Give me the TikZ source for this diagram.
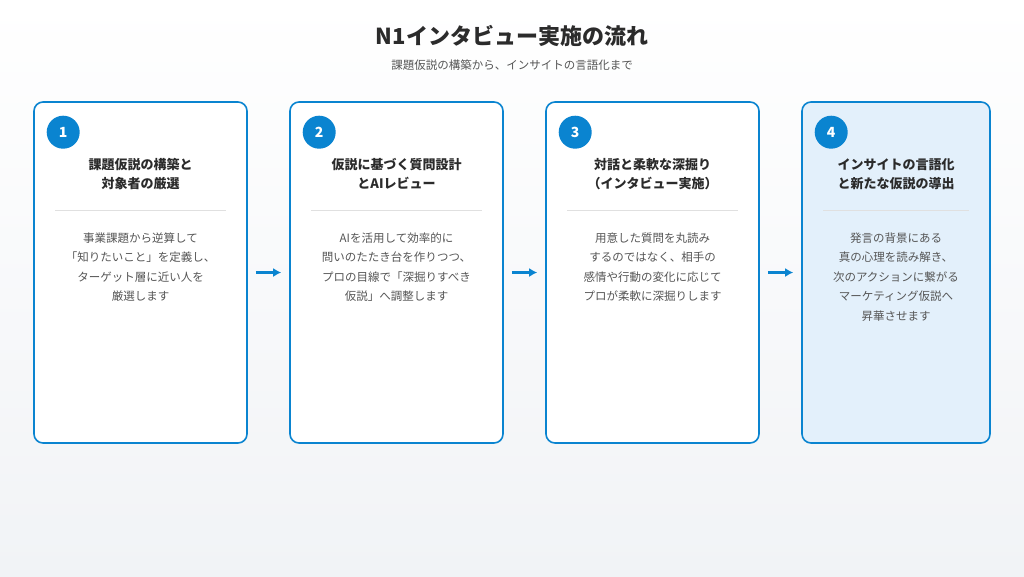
\documentclass[tikz,border=0pt]{standalone}
\usepackage{fontspec}
\setmainfont{Noto Sans CJK JP}
\usetikzlibrary{positioning,arrows.meta}
\definecolor{stepblue}{HTML}{0A84D0}
\definecolor{bodygray}{HTML}{555555}
\definecolor{titlegray}{HTML}{2B2B2B}
\definecolor{softblue}{HTML}{E3F0FB}
\definecolor{pagebg}{HTML}{F1F3F6}
\tikzset{
  card/.style={draw=stepblue,line width=1.6pt,rounded corners=9pt,fill=white,minimum height=341pt,inner sep=0pt},
  badge/.style={circle,fill=stepblue,minimum size=33pt,inner sep=0pt,text=white,font=\fontsize{14}{14}\selectfont\bfseries},
  cardtitle/.style={align=center,text=titlegray,font=\fontsize{13}{19}\selectfont\bfseries},
  cardbody/.style={align=center,text=bodygray,font=\fontsize{11.5}{19.5}\selectfont},
  flow/.style={-{Latex[length=8pt,width=9pt]},stepblue,line width=2.4pt,shorten >=8pt,shorten <=8pt}
}
\begin{document}
\begin{tikzpicture}[x=1pt,y=-1pt]
\fill[top color=white,bottom color=pagebg] (0,0) rectangle (1024,576);
\useasboundingbox (0,0) rectangle (1024,576);

\node[text=titlegray,font=\fontsize{22}{22}\selectfont\bfseries] (head) at (512,36) {N1インタビュー実施の流れ};
\node[text=bodygray,font=\fontsize{11.5}{12}\selectfont] (sub) at (512,65) {課題仮説の構築から、インサイトの言語化まで};

% cards
\node[card,minimum width=213pt] (c1) at (140.5,272.5) {};
\node[card,minimum width=213pt] (c2) at (396.5,272.5) {};
\node[card,minimum width=213pt] (c3) at (652.5,272.5) {};
\node[card,minimum width=188pt,fill=softblue] (c4) at (896,272.5) {};

\foreach \c/\n in {c1/1,c2/2,c3/3,c4/4} {
  \node[badge] (b\n) at ([xshift=30pt,yshift=-31pt]\c.north west) {\n};
  \draw[black!12,line width=0.8pt] ([xshift=22pt,yshift=-109pt]\c.north west) -- ([xshift=-22pt,yshift=-109pt]\c.north east);
}

\node[cardtitle] (t1) at ([yshift=-73pt]c1.north) {課題仮説の構築と\\対象者の厳選};
\node[cardtitle] (t2) at ([yshift=-73pt]c2.north) {仮説に基づく質問設計\\とAIレビュー};
\node[cardtitle] (t3) at ([yshift=-73pt]c3.north) {対話と柔軟な深掘り\\（インタビュー実施）};
\node[cardtitle] (t4) at ([yshift=-73pt]c4.north) {インサイトの言語化\\と新たな仮説の導出};

\node[cardbody,anchor=north] (d1) at ([yshift=-128pt]c1.north) {事業課題から逆算して\\「知りたいこと」を定義し、\\ターゲット層に近い人を\\厳選します};
\node[cardbody,anchor=north] (d2) at ([yshift=-128pt]c2.north) {AIを活用して効率的に\\問いのたたき台を作りつつ、\\プロの目線で「深掘りすべき\\仮説」へ調整します};
\node[cardbody,anchor=north] (d3) at ([yshift=-128pt]c3.north) {用意した質問を丸読み\\するのではなく、相手の\\感情や行動の変化に応じて\\プロが柔軟に深掘りします};
\node[cardbody,anchor=north] (d4) at ([yshift=-128pt]c4.north) {発言の背景にある\\真の心理を読み解き、\\次のアクションに繋がる\\マーケティング仮説へ\\昇華させます};

\draw[flow] (c1) -- (c2);
\draw[flow] (c2) -- (c3);
\draw[flow] (c3) -- (c4);
\end{tikzpicture}
\end{document}
